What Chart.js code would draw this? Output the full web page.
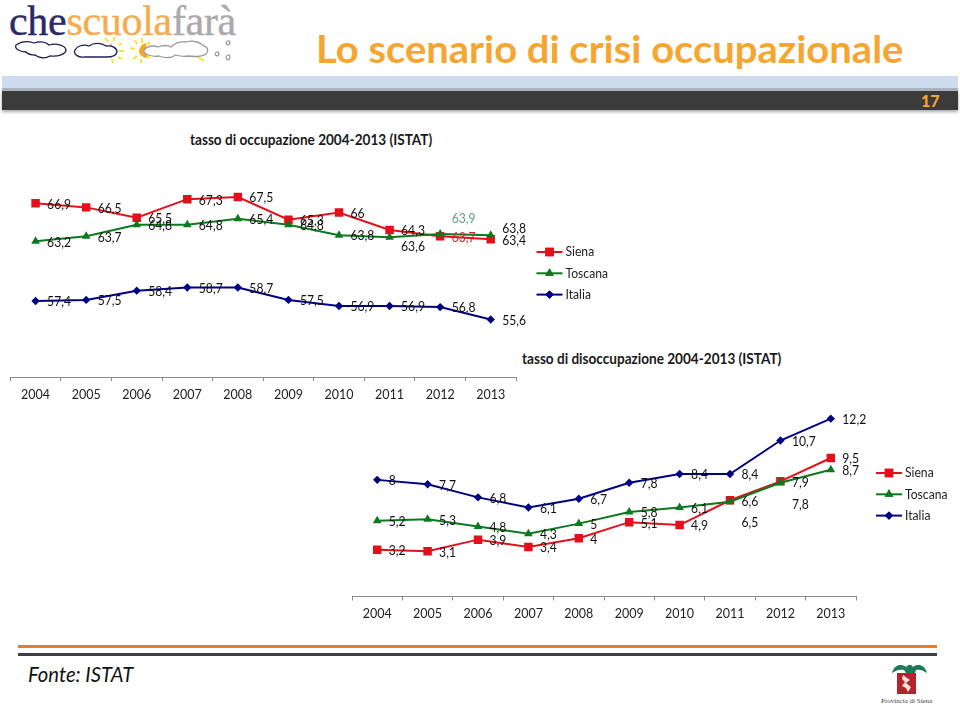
<!DOCTYPE html>
<html lang="it">
<head>
<meta charset="utf-8">
<title>Lo scenario di crisi occupazionale</title>
<script src="https://cdn.jsdelivr.net/npm/chart.js@4"></script>
<style>
    html, body { margin: 0; padding: 0; background: #fff; }
    body { position: relative; width: 960px; height: 706px; overflow: hidden; font-family: Lato, sans-serif; color: #111; }
    .abs { position: absolute; white-space: nowrap; }
    canvas { position: absolute; }
    .logo { left: 9px; top: -3px; font: 42px "Liberation Serif", serif; letter-spacing: -0.3px; -webkit-text-stroke: 0.4px; }
    .titolo { left: 316px; top: 25px; font-size: 38px; font-weight: 700; color: #f7a531; transform-origin: left top; transform: scaleX(1.052); }
    .sub { font-size: 15px; font-weight: 700; color: #1a1a1a; transform-origin: left center; transform: scaleX(0.905); }
</style>
</head>
<body>
    <div class="abs logo"><span style="color:#2b2a66">che</span><span style="color:#f4ac4f">scuola</span><span style="color:#a9a9ad">farà</span></div>
    <svg class="abs" style="left:0;top:0" width="250" height="70" fill="none">
        <g stroke="#f6e23a" stroke-width="2">
            <path d="M105 38l3 4M114 37v4M122 43l-3 2M124 51h-5M122 59l-4-2M113 63l-1-4M135 40l2 4M142 38v5M150 42l-3 3M130 48l5 1M133 59l4-3M141 63v-4M150 58l-3-2M193 54l11 7"/>
        </g>
        <path d="M110 43a9 9 0 0 1 0 14z" fill="#f2b25c"/>
        <path d="M146 43a9 9 0 0 0 -7 9a9 9 0 0 0 8 6z" fill="#f5a623"/>
        <g stroke="#1f1f55" stroke-width="1.3" fill="#fff">
            <path d="M16 45c6-4 12-4 18-2c6-2 12-1 15 2c7-2 16 0 17 5c0 4-8 7-16 6c-5 3-11 2-15-1c-6 0-8-2-9-3c-5 0-12-3-10-7z"/>
            <path d="M75 50c2-4 8-6 14-4c5-4 13-3 17 0c6-1 11 2 11 6c-1 4-6 5-10 5h-22c-7 1-12-3-10-7z"/>
        </g>
        <g stroke="#9a9aa0" stroke-width="1.3" fill="#fff">
            <path d="M144 50c3-4 9-5 14-3c4-2 10-2 13 0c3-3 8-6 15-5c7-2 14 0 18 4c4 1 5 5 2 8c-3 2-10 3-18 2c-5 1-9 0-12-1c-5 3-12 3-17 1c-6 1-16-1-15-6z"/>
            <path d="M217 52c2-1 3 3 0 4c-3-1-2-3 0-4zM228 41c2-1 3 3 0 4c-3-1-2-3 0-4zM228 55c2-1 3 3 0 5c-3-1-2-4 0-5z"/>
        </g>
    </svg>
    <div class="abs titolo">Lo scenario di crisi occupazionale</div>

    <div class="abs" style="left:2px;top:76px;width:956px;height:12px;background:#cddbed"></div>
    <div class="abs" style="left:2px;top:88px;width:956px;height:3px;background:#a9b3c0"></div>
    <div class="abs" style="left:2px;top:91px;width:956px;height:19px;background:#3b3b3b;box-shadow:0 2px 3px #aaa"></div>
    <div class="abs" style="left:921px;top:91px;font-size:16px;font-weight:900;line-height:19px;color:#f7a531">17</div>

    <div class="abs sub" style="left:190px;top:130px">tasso di occupazione 2004-2013 (ISTAT)</div>
    <div class="abs sub" style="left:522px;top:349px">tasso di disoccupazione 2004-2013 (ISTAT)</div>

    <canvas id="graficoOccupazione" style="left:0;top:160px" width="620" height="245"></canvas>
    <canvas id="graficoDisoccupazione" style="left:340px;top:385px" width="620" height="240"></canvas>

    <div class="abs" style="left:18px;top:645px;width:919px;height:3px;background:#ee7b22"></div>
    <div class="abs" style="left:18px;top:653px;width:919px;height:3px;background:#3f3f46"></div>
    <div class="abs" style="left:28px;top:660px;font-size:22px;font-style:italic;color:#111;transform-origin:left center;transform:scaleX(0.92)">Fonte: ISTAT</div>

    <svg class="abs" style="left:885px;top:660px" width="60" height="40">
        <path d="M7 13c2-8 9-10 14-6c3-3 5-3 7 0c5-4 12-2 14 6c-4-3-8-4-11-3l-1 3h-9l-2-3c-3-1-8 0-12 3z" fill="#1f7a5c"/>
        <rect x="12" y="13" width="19" height="21" fill="#b3242c"/>
        <path d="M18 15l7 5-4 3 5 4-3 5-2-4-4-2 3-4-3-3z" fill="#f1e4d6"/>
    </svg>
    <div class="abs" style="left:881px;top:697px;font:7px 'Liberation Serif',serif;color:#444">Provincia di Siena</div>

<script>
const anni = ['2004', '2005', '2006', '2007', '2008', '2009', '2010', '2011', '2012', '2013']

const occSiena = [66.9, 66.5, 65.5, 67.3, 67.5, 65.3, 66, 64.3, 63.7, 63.4]
const occToscana = [63.2, 63.7, 64.8, 64.8, 65.4, 64.8, 63.8, 63.6, 63.9, 63.8]
const occItalia = [57.4, 57.5, 58.4, 58.7, 58.7, 57.5, 56.9, 56.9, 56.8, 55.6]

const disSiena = [3.2, 3.1, 3.9, 3.4, 4, 5.1, 4.9, 6.6, 7.9, 9.5]
const disToscana = [5.2, 5.3, 4.8, 4.3, 5, 5.8, 6.1, 6.5, 7.8, 8.7]
const disItalia = [8, 7.7, 6.8, 6.1, 6.7, 7.8, 8.4, 8.4, 10.7, 12.2]

const rosso = '#e3101c'
const verde = '#0b7a1e'
const blu = '#000080'

// testo un po' stretto e alto, come il Calibri della slide originale
function testo(ctx, s, x, y) {
    ctx.save()
    ctx.translate(x, y)
    ctx.scale(0.9, 1)
    ctx.fillText(s, 0, 0)
    ctx.restore()
}

// etichette e legenda disegnate a mano, Chart.js non ha i data label
const etichette = {
    id: 'etichette',
    afterDatasetsDraw(chart, args, opts) {
        let ctx = chart.ctx
        ctx.save()
        ctx.font = '13.5px Lato'
        ctx.textBaseline = 'middle'
        chart.data.datasets.forEach((ds, d) => {
            let punti = chart.getDatasetMeta(d).data
            ds.data.forEach((v, i) => {
                let sposta = (opts.sposta[d] || {})[i] || 0
                ctx.fillStyle = (opts.colori[d] || {})[i] || '#111'
                testo(ctx, String(v).replace('.', ','), punti[i].x + 11.5, punti[i].y + 1 + sposta)
            })
        })

        chart.data.datasets.forEach((ds, d) => {
            let y = opts.legendaY + d * 21.3
            ctx.strokeStyle = ds.borderColor
            ctx.lineWidth = 2
            ctx.beginPath()
            ctx.moveTo(opts.legendaX, y)
            ctx.lineTo(opts.legendaX + 26, y)
            ctx.stroke()
            ctx.fillStyle = ds.pointBackgroundColor
            ctx.beginPath()
            Chart.helpers.drawPoint(ctx, { pointStyle: ds.pointStyle, radius: ds.pointRadius, borderWidth: 0 }, opts.legendaX + 13, y)
            ctx.fill()
            ctx.fillStyle = '#222'
            testo(ctx, ds.label, opts.legendaX + 29, y)
        })
        ctx.restore()
    }
}

function serie(nome, valori, colore, stile, raggio, ordine) {
    return {
        label: nome,
        data: valori,
        borderColor: colore,
        borderWidth: 2,
        backgroundColor: colore,
        pointBackgroundColor: colore,
        pointBorderColor: colore,
        pointBorderWidth: 0,
        pointStyle: stile,
        pointRadius: raggio,
        tension: 0,
        order: ordine
    }
}

function grafico(id, siena, toscana, italia, asse, margini, altezzaAsse, etichetteOpt) {
    let ctx = document.getElementById(id).getContext('2d')
    new Chart(ctx, {
        type: 'line',
        data: {
            labels: anni,
            datasets: [
                serie('Siena', siena, rosso, 'rect', 6, 3),
                serie('Toscana', toscana, verde, 'triangle', 5, 2),
                serie('Italia', italia, blu, 'rectRot', 4.2, 1)
            ]
        },
        options: {
            responsive: false,
            animation: false,
            layout: { padding: margini },
            plugins: {
                legend: { display: false },
                tooltip: { enabled: false },
                etichette: etichetteOpt
            },
            scales: {
                x: {
                    offset: true,
                    afterFit: (s) => { s.height = altezzaAsse },
                    grid: { drawOnChartArea: false, tickLength: 4, color: '#8a8a8a', offset: true },
                    border: { color: '#8a8a8a', width: 1 },
                    ticks: { color: '#222', font: { family: 'Lato', size: 12.5 }, maxRotation: 0, autoSkip: false, padding: 6 }
                },
                y: { display: false, min: asse[0], max: asse[1] }
            }
        },
        plugins: [etichette]
    })
}

grafico('graficoOccupazione', occSiena, occToscana, occItalia, [50, 70],
    { left: 10.3, right: 104, top: 11.4, bottom: 0 }, 28, {
        legendaX: 536.5,
        legendaY: 92,
        sposta: { 1: { 7: 8, 8: -16, 9: -7 } },
        colori: { 0: { 8: '#d8232a' }, 1: { 8: '#5f9f8c' } }
    })

grafico('graficoDisoccupazione', disSiena, disToscana, disItalia, [0, 14],
    { left: 12, right: 104, top: 7.4, bottom: 0 }, 28.5, {
        legendaX: 536,
        legendaY: 88,
        sposta: { 1: { 7: 20, 8: 21 } },
        colori: {}
    })
</script>
</body>
</html>
